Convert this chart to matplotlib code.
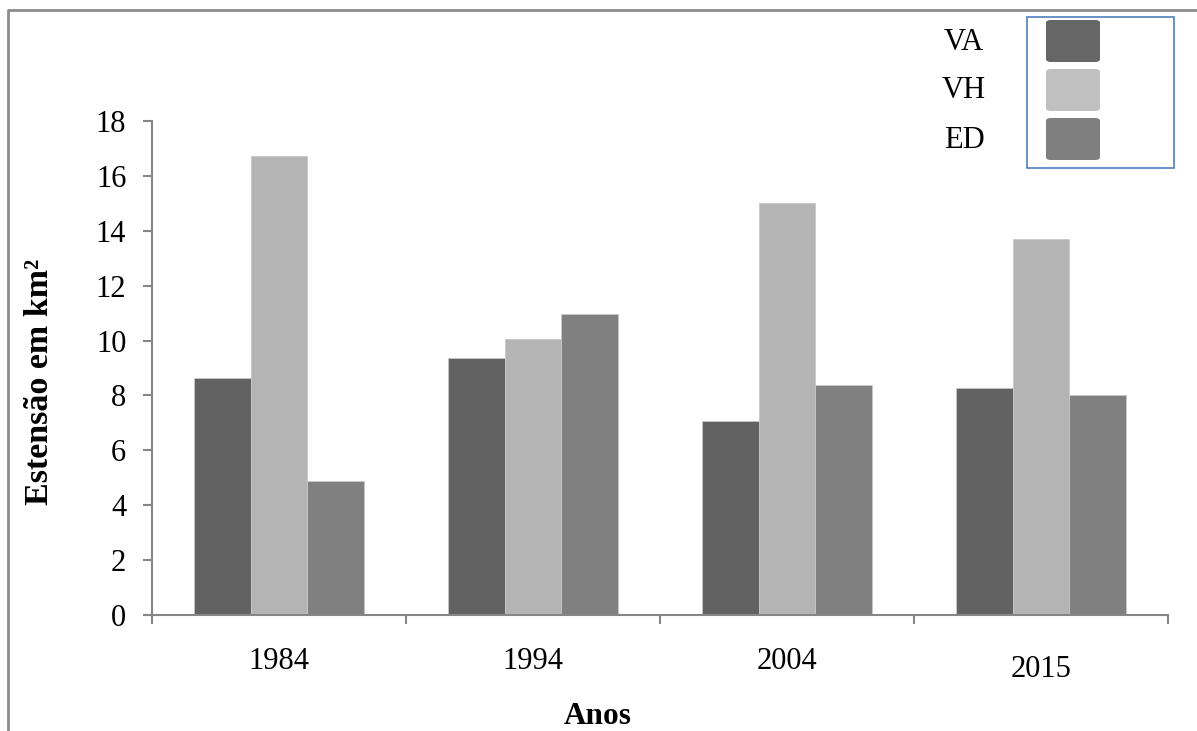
import matplotlib
matplotlib.use("Agg")
import matplotlib.pyplot as plt
from matplotlib.patches import Rectangle, FancyBboxPatch
from matplotlib.lines import Line2D
from matplotlib.transforms import ScaledTranslation
import numpy as np

years = ["1984", "1994", "2004", "2015"]
series = ["VA", "VH", "ED"]
va = [8.65, 9.35, 7.06, 8.27]
vh = [16.73, 10.05, 15.03, 13.70]
ed = [4.88, 10.97, 8.38, 8.01]
bar_colors = ["#626262", "#b4b4b4", "#808080"]
legend_colors = ["#666666", "#c0c0c0", "#7f7f7f"]
y_ticks = [0, 2, 4, 6, 8, 10, 12, 14, 16, 18]

plt.rcParams["font.family"] = ["Liberation Serif", "DejaVu Serif"]

W, H = 1197, 731
fig = plt.figure(figsize=(W / 100, H / 100), dpi=100)

def px(x0, y0, x1, y1):
    """Pixel box (top-left origin) to figure fraction rect."""
    return [x0 / W, 1 - y1 / H, (x1 - x0) / W, (y1 - y0) / H]

ax = fig.add_axes(px(152, 121, 1168, 615))

axis_gray = "#868686"
n = len(years)
x = np.arange(n)
width = 1 / 4.5
for i, (vals, col) in enumerate(zip([va, vh, ed], bar_colors)):
    ax.bar(x + (i - 1) * width, vals, width=width, color=col,
           edgecolor="#c8c8c8", linewidth=0.6, zorder=2)

ax.set_xlim(-0.5, n - 0.5)
ax.set_ylim(0, 18)
ax.set_yticks(y_ticks)
ax.set_yticklabels([str(t) for t in y_ticks])
ax.set_xticks(x)
ax.set_xticklabels(years)
ax.set_xticks(np.arange(n + 1) - 0.5, minor=True)

for s in ["top", "right"]:
    ax.spines[s].set_visible(False)
for s in ["left", "bottom"]:
    ax.spines[s].set_color(axis_gray)
    ax.spines[s].set_linewidth(1.5)

ax.tick_params(axis="y", direction="out", length=6.5, width=1.5,
               color=axis_gray, labelsize=22, pad=12)
ax.tick_params(axis="x", which="major", length=0, labelsize=22, pad=23)
ax.tick_params(axis="x", which="minor", direction="out", length=6.5,
               width=1.5, color=axis_gray)

# the last year label sits a little lower than the others
lbls = ax.get_xticklabels()
lbls[-1].set_transform(lbls[-1].get_transform() +
                       ScaledTranslation(0, -8 / 100, fig.dpi_scale_trans))

fig.text(40 / W, 1 - 382 / H, "Estensão em km²", rotation=90,
         ha="center", va="center", fontsize=24.5, fontweight="bold")
fig.text(598 / W, 1 - 716 / H, "Anos", ha="center", va="center",
         fontsize=22.5, fontweight="bold")

# legend: labels outside to the left, colour swatches inside a framed box
fig.patches.append(Rectangle((1027 / W, 1 - 168 / H), 147 / W, 151 / H,
                             transform=fig.transFigure, fill=False,
                             edgecolor="#4f7fbd", linewidth=1.2))
sw_top = [20, 69, 118]
for lab, col, t in zip(series, legend_colors, sw_top):
    fig.patches.append(FancyBboxPatch(
        (1046 / W, 1 - (t + 42) / H), 54 / W, 42 / H,
        boxstyle="round,pad=0,rounding_size=0.004",
        transform=fig.transFigure, facecolor=col, edgecolor="none"))
    fig.text(964 / W, 1 - (t + 22) / H, lab, ha="center", va="center",
             fontsize=22)

# outer frame
fig.lines.append(Line2D([8 / W, 8 / W, 1], [0, 1 - 10 / H, 1 - 10 / H],
                        transform=fig.transFigure, color="#8c8c8c",
                        linewidth=2))

fig.savefig("out.png", dpi=100, facecolor="white")
